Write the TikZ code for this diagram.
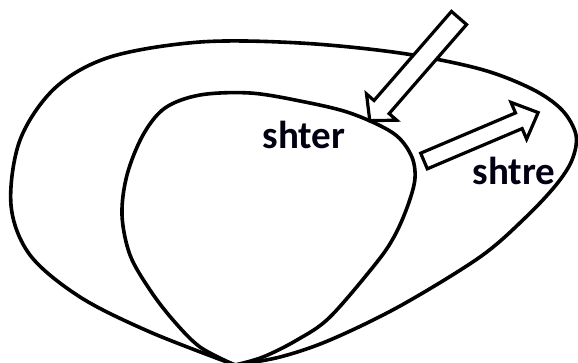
\documentclass[tikz,border=0pt]{standalone}
\usepackage{fontspec}
\setmainfont{Carlito}
\usetikzlibrary{calc}

\newcommand{\hollowarrow}[6]{% tail, angle, length, shaft half, head half, head length
  \draw[arrowbox,shift={#1},rotate=#2] (0,-#4) -- ({#3-#6},-#4) -- ({#3-#6},-#5) -- (#3,0) -- ({#3-#6},#5) -- ({#3-#6},#4) -- (0,#4) -- cycle;}

\begin{document}
\begin{tikzpicture}[x=1pt,y=-1pt,line cap=round,line join=round]
\path[fill=white] (0,0) rectangle (578,362);
\useasboundingbox (0,0) rectangle (578,362);
\tikzset{rim/.style={draw=black,line width=3.6pt},arrowbox/.style={draw=black,fill=white,line width=3.2pt,line join=miter},lbl/.style={font=\bfseries\fontsize{39}{39}\selectfont,text=black!93!blue}}
% outer blob
\draw[rim] plot[smooth,tension=0.55] coordinates {(235,365) (150,332) (80,297) (30,255) (11,205) (20,140) (55,88) (110,57) (200,42) (300,43) (400,53) (480,69) (532,89) (562,110) (576,135) (572,160) (556,185) (525,218) (480,257) (400,306) (330,340) (280,357) (235,365)};
% inner blob
\draw[rim] plot[smooth,tension=0.55] coordinates {(235,365) (200,347) (173,320) (150,290) (130,255) (122,215) (127,175) (143,135) (165,108) (200,95) (250,93) (300,101) (350,113) (393,133) (411,155) (415,178) (408,205) (395,235) (377,262) (330,317) (297,340) (263,357) (235,365)};
% hollow arrows
\hollowarrow{(459,18)}{229}{136}{10}{20}{18}
\hollowarrow{(424,161)}{23}{124}{8.5}{20}{21}
\node[lbl] (shter) at (304,135) {shter};
\node[lbl] (shtre) at (514,171) {shtre};
\end{tikzpicture}
\end{document}
